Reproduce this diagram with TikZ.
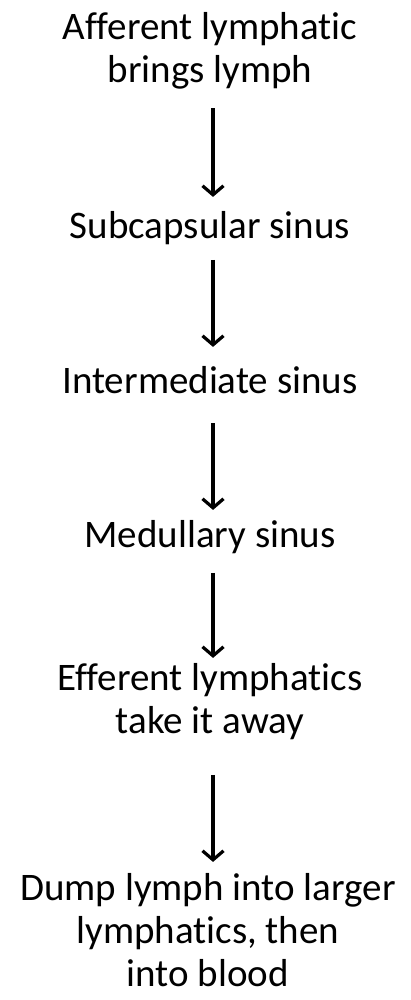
\documentclass[tikz,border=0pt]{standalone}
\usepackage{fontspec}
\setmainfont{Carlito}[Ligatures=NoCommon]
\usepackage{tikz}
\usetikzlibrary{
  arrows.meta,
  calc,
  positioning
}
\definecolor{inkblack}{RGB}{0,0,0}
\tikzset{
  stage/.style={align=center,inner sep=0pt,outer sep=0pt,anchor=base,
    text=inkblack,font=\fontsize{39}{43}\selectfont},
  flow/.style={-{Straight Barb[length=9pt,width=21pt]},line width=3.2pt,
    draw=inkblack}
}

\begin{document}
\begin{tikzpicture}[x=1pt,y=1pt]
  \useasboundingbox (0,0) rectangle (411,-1000);
  % base of a multi-line node is its last line
  \node[stage] (aff) at (210,-83) {Afferent lymphatic\\brings lymph};
  \node[stage] (sub) at (210,-238) {Subcapsular sinus};
  \node[stage] (int) at (210,-393) {Intermediate sinus};
  \node[stage] (med) at (210,-547) {Medullary sinus};
  \node[stage] (eff) at (210,-733) {Efferent lymphatics\\take it away};
  \node[stage] (dump) at (208,-986) {Dump lymph into larger\\lymphatics, then\\into blood};
  \draw[flow,shorten <=18.5pt,shorten >=14pt] ([xshift=3pt]aff.south)--([xshift=3pt]sub.north);
  \draw[flow,shorten <=15.5pt,shorten >=19pt] ([xshift=3pt]sub.south)--([xshift=3pt]int.north);
  \draw[flow,shorten <=30pt,shorten >=10pt] ([xshift=3pt]int.south)--([xshift=3pt]med.north);
  \draw[flow,shorten <=19.5pt,shorten >=5pt] ([xshift=3pt]med.south)--([xshift=3pt]eff.north);
  \draw[flow,shorten <=35.5pt,shorten >=11pt] ([xshift=3pt]eff.south)--([xshift=5pt]dump.north);
\end{tikzpicture}
\end{document}
